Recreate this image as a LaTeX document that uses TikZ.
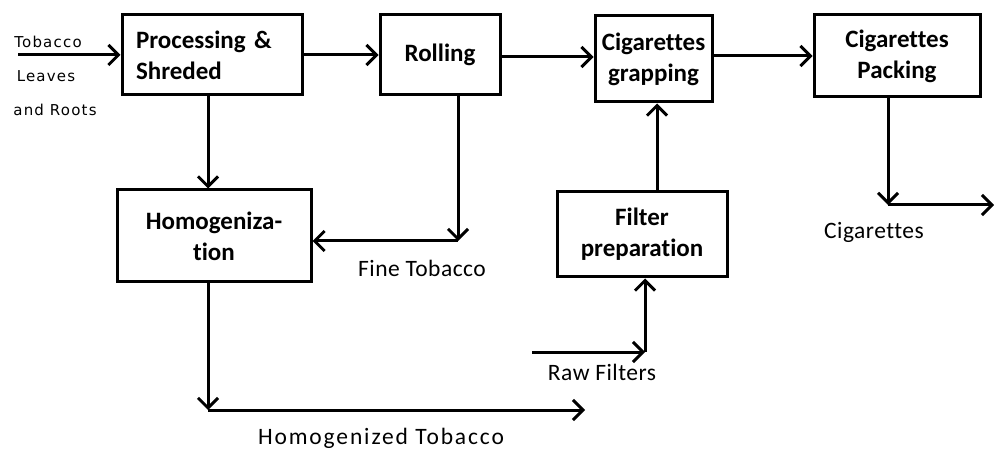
\documentclass[tikz,border=0pt]{standalone}
\usepackage{fontspec}
\setmainfont[Ligatures=CommonOff]{Carlito}
\newfontfamily\smallfont[LetterSpace=8]{DejaVu Sans}
\usetikzlibrary{arrows.meta}
\tikzset{
  box/.style={draw, line width=3pt, inner sep=0pt, font=\fontsize{25}{31}\selectfont\bfseries, align=center},
  flow/.style={line width=3pt, -{Straight Barb[length=10pt,width=20pt,line width=3pt]}},
  lbl/.style={font=\fontsize{23.5}{26}\selectfont\addfontfeature{LetterSpace=2}, inner sep=0pt},
  slbl/.style={font=\fontsize{15}{16}\smallfont, inner sep=0pt}
}
\begin{document}
\begin{tikzpicture}[x=1pt,y=-1pt]
\useasboundingbox (0,0) rectangle (994,449);
% boxes
\node[box, minimum width=180pt, minimum height=80pt, text width=152pt, align=left] (proc) at (212,55) {Processing \&\\Shreded};
\node[box, minimum width=120pt, minimum height=80pt] (roll) at (440,55) {Rolling};
\node[box, minimum width=117pt, minimum height=86pt] (grap) at (653.5,59) {Cigarettes\\grapping};
\node[box, minimum width=166pt, minimum height=82pt] (pack) at (897,56) {Cigarettes\\Packing};
\node[box, minimum width=194pt, minimum height=92pt] (homo) at (214,236) {Homogeniza-\\tion};
\node[box, minimum width=170pt, minimum height=85pt] (filt) at (642,234.5) {Filter\\preparation};
% coordinates
\coordinate (in) at (18,55);
\coordinate (rc) at (458,241);
\coordinate (hc) at (208,410);
\coordinate (hend) at (585,410);
\coordinate (rf) at (532,352);
\coordinate (fc) at (645,352);
\coordinate (pc) at (888,205);
\coordinate (pend) at (994,205);
% labels
\node[slbl] (t1) at (48,42) {Tobacco};
\node[slbl] (t2) at (46,76) {Leaves};
\node[slbl] (t3) at (55,110) {and Roots};
\node[lbl] (ft) at (422,268) {Fine Tobacco};
\node[lbl, font=\fontsize{23.5}{26}\selectfont\addfontfeature{LetterSpace=8}] (ht) at (381,438) {Homogenized Tobacco};
\node[lbl] (rw) at (602,372) {Raw Filters};
\node[lbl] (cg) at (874,232) {Cigarettes};
% connectors
\draw[flow] (in) -- (proc.west);
\draw[flow] (proc.east) -- (roll.west);
\draw[flow] (roll.east |- 0,57) -- (grap.west |- 0,57);
\draw[flow] (grap.east |- 0,56) -- (pack.west |- 0,56);
\draw[flow] (proc.south -| 208,0) -- (homo.north -| 208,0);
\draw[flow] (roll.south -| rc) -- (rc);
\draw[flow] (rc) -- (homo.east |- rc);
\draw[flow] (homo.south -| hc) -- (hc);
\draw[flow] (hc) -- (hend);
\draw[flow] (rf) -- (fc);
\draw[flow] (fc) -- (filt.south -| fc);
\draw[flow] (filt.north -| 657,0) -- (grap.south -| 657,0);
\draw[flow] (pack.south -| pc) -- (pc);
\draw[flow] (pc) -- (pend);
\end{tikzpicture}
\end{document}
